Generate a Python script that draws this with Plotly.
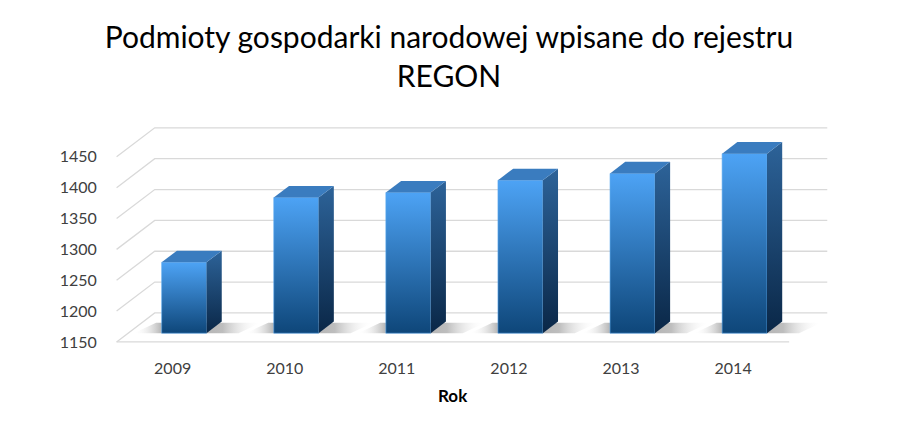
import plotly.graph_objects as go

# dane
years = ['2009', '2010', '2011', '2012', '2013', '2014']
values = [1265, 1370, 1378, 1398, 1409, 1441]
y_ticks = [1150, 1200, 1250, 1300, 1350, 1400, 1450]

BASE = 1150
DX, DY = 0.34, 47        # przesuniecie "w glab" (pseudo 3D)
D0, D1 = 0.3, 0.7        # glebokosc przodu i tylu slupka
HALF = 0.2               # polowa szerokosci slupka
GRID = '#D9D9D9'
FONT = 'Lato'

fig = go.Figure()

# sciana tylna i boczna - linie siatki
for v in y_ticks:
    fig.add_trace(go.Scatter(x=[0, DX, 6 + DX], y=[v, v + DY, v + DY], mode='lines',
                             line=dict(color=GRID, width=1.3), hoverinfo='skip'))
# przednia krawedz podlogi
fig.add_trace(go.Scatter(x=[0, 6], y=[BASE, BASE], mode='lines',
                         line=dict(color=GRID, width=1.3), hoverinfo='skip'))

for i, v in enumerate(values):
    c = i + 0.5
    xl = c - HALF + D0 * DX
    xr = c + HALF + D0 * DX
    b0 = BASE + D0 * DY
    t0 = v + D0 * DY
    ddx = (D1 - D0) * DX
    ddy = (D1 - D0) * DY

    # cien na podlodze
    fig.add_trace(go.Scatter(
        x=[xl - 0.25, xr + ddx + 0.15, xr + ddx + 0.35, xl - 0.05, xl - 0.25],
        y=[b0, b0, b0 + ddy * 0.9, b0 + ddy * 0.9, b0],
        mode='lines', fill='toself', line=dict(width=0), hoverinfo='skip',
        fillgradient=dict(type='horizontal', colorscale=[
            [0, 'rgba(255,255,255,0)'], [0.25, 'rgba(80,80,80,0.55)'],
            [0.7, 'rgba(110,110,110,0.45)'], [1, 'rgba(255,255,255,0)']])))

    # przod slupka
    fig.add_trace(go.Scatter(
        x=[xl, xr, xr, xl, xl], y=[b0, b0, t0, t0, b0],
        mode='lines', fill='toself', line=dict(width=0.6, color='#5AAAF0'), hoverinfo='skip',
        fillgradient=dict(type='vertical', colorscale=[[0, '#0E4679'], [1, '#4DA3F5']])))
    # bok slupka
    fig.add_trace(go.Scatter(
        x=[xr, xr + ddx, xr + ddx, xr, xr], y=[b0, b0 + ddy, t0 + ddy, t0, b0],
        mode='lines', fill='toself', line=dict(width=0), hoverinfo='skip',
        fillgradient=dict(type='vertical', colorscale=[[0, '#0A2747'], [1, '#2D6399']])))
    # gora slupka
    fig.add_trace(go.Scatter(
        x=[xl, xr, xr + ddx, xl + ddx, xl], y=[t0, t0, t0 + ddy, t0 + ddy, t0],
        mode='lines', fill='toself', fillcolor='#3A7CBF', line=dict(width=0),
        hoverinfo='skip'))

fig.add_annotation(x=3.0, y=0, xref='x', yref='paper', yshift=-50, yanchor='middle',
                   text='<b>Rok</b>', showarrow=False,
                   font=dict(family=FONT, size=17, color='#000000'))

fig.update_layout(
    title=dict(text='Podmioty gospodarki narodowej wpisane do rejestru<br>REGON',
               x=0.5, xanchor='center', y=0.89, yanchor='top',
               font=dict(family=FONT, size=30, color='#000000')),
    width=898, height=436,
    margin=dict(l=111, r=64, t=126, b=91),
    showlegend=False,
    plot_bgcolor='white', paper_bgcolor='white',
    xaxis=dict(range=[-0.05, 6.4], tickvals=[i + 0.5 for i in range(6)], ticktext=years,
               showgrid=False, zeroline=False, showline=False,
               ticks='outside', ticklen=9, tickcolor='rgba(0,0,0,0)',
               tickfont=dict(family=FONT, size=16, color='#404040')),
    yaxis=dict(range=[1145, 1500], tickvals=y_ticks, showgrid=False, zeroline=False,
               showline=False, ticks='outside', ticklen=10, tickcolor='rgba(0,0,0,0)',
               tickfont=dict(family=FONT, size=16, color='#404040')),
)

# bez marginesu strony, zeby wykres zaczynal sie w (0, 0)
fig.write_html("out.html", config={'displayModeBar': False},
               post_script="document.body.style.margin='0';")
